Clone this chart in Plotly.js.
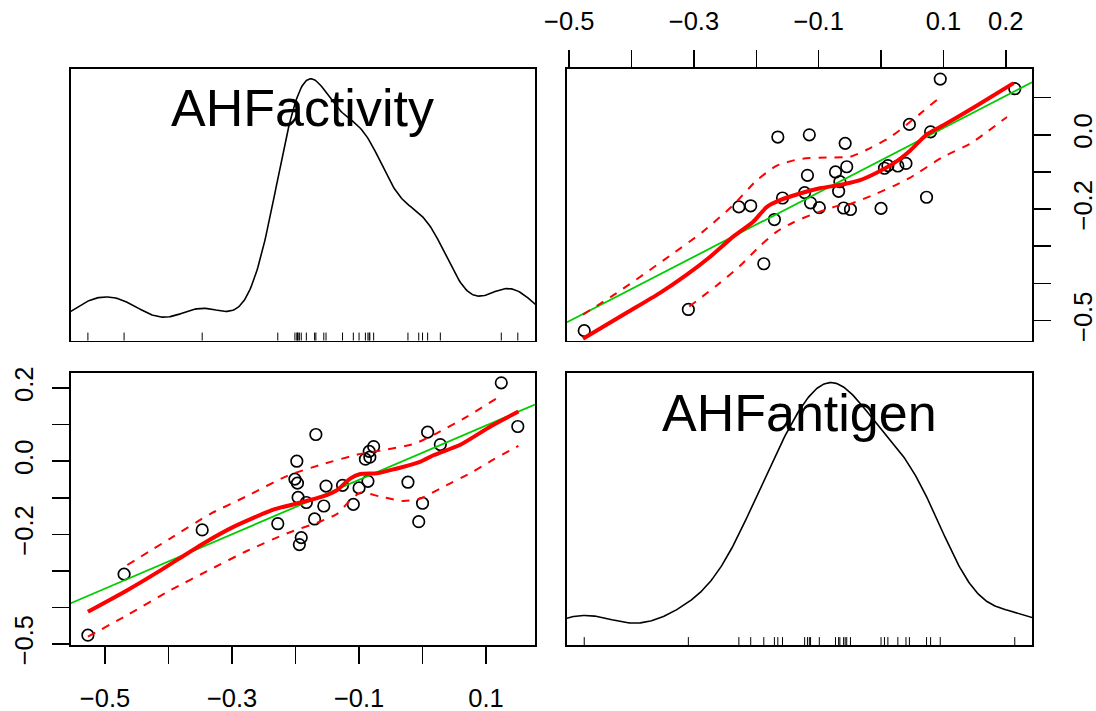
<!DOCTYPE html>
<html><head><meta charset="utf-8">
<script src="https://cdn.plot.ly/plotly-3.0.1.min.js"></script>
<style>body{margin:0;background:#fff}#chart{width:1096px;height:711px}</style>
</head><body><div id="chart"></div>
<script>
// ---- data ----
const varNames = ["AHFactivity", "AHFantigen"];
const AHFactivity = [-0.527,-0.470,-0.347,-0.228,-0.198,-0.201,-0.197,-0.196,-0.183,-0.191,
                     -0.194,-0.168,-0.170,-0.1555,-0.152,-0.126,-0.109,-0.100,-0.086,-0.090,
                     -0.084,-0.083,-0.077,-0.023,0.008,0.028,0.000,-0.006,0.124,0.150];
const AHFantigen  = [-0.476,-0.309,-0.188,-0.171,0.000,-0.049,-0.060,-0.099,-0.113,-0.209,
                     -0.228,0.073,-0.158,-0.1225,-0.068,-0.066,-0.118,-0.073,-0.055,0.0055,
                     0.027,0.011,0.040,-0.0575,0.0795,0.0455,-0.115,-0.1655,0.2145,0.095];

// loess smoother + spread lines
// panel: y = AHFantigen, x = AHFactivity
const smBL_x  = [-0.527,-0.465,-0.412,-0.349,-0.297,-0.234,-0.187,-0.150,-0.1345,-0.1135,-0.098,-0.0715,-0.045,-0.003,0.018,0.0595,0.107,0.151];
const smBL_y  = [-0.412,-0.353,-0.298,-0.229,-0.179,-0.132,-0.111,-0.092,-0.079,-0.047,-0.035,-0.033,-0.022,-0.001,0.017,0.045,0.095,0.136];
const upBL_x  = [-0.465,-0.397,-0.334,-0.276,-0.213,-0.161,-0.098,-0.066,-0.014,0.023,0.070,0.117];
const upBL_y  = [-0.284,-0.211,-0.144,-0.095,-0.040,-0.010,0.020,0.029,0.047,0.077,0.122,0.1725];
const loBL_x  = [-0.527,-0.465,-0.397,-0.334,-0.276,-0.213,-0.161,-0.1345,-0.116,-0.098,-0.066,-0.030,-0.003,0.033,0.075,0.112,0.151];
const loBL_y  = [-0.480,-0.421,-0.353,-0.296,-0.245,-0.197,-0.165,-0.144,-0.111,-0.086,-0.097,-0.109,-0.102,-0.070,-0.033,0.005,0.042];
// panel: y = AHFactivity, x = AHFantigen
const smTR_x  = [-0.478,-0.408,-0.355,-0.312,-0.274,-0.237,-0.205,-0.183,-0.162,-0.130,-0.098,-0.060,-0.0335,-0.007,0.020,0.047,0.0735,0.100,0.154,0.2125];
const smTR_y  = [-0.549,-0.479,-0.426,-0.377,-0.328,-0.274,-0.234,-0.194,-0.176,-0.158,-0.144,-0.133,-0.122,-0.102,-0.077,-0.042,0.001,0.0255,0.079,0.139];
const upTR_x  = [-0.478,-0.424,-0.339,-0.2855,-0.237,-0.199,-0.167,-0.130,-0.087,-0.0496,-0.0175,0.015,0.041,0.068,0.0895];
const upTR_y  = [-0.484,-0.426,-0.326,-0.2605,-0.189,-0.122,-0.083,-0.065,-0.061,-0.059,-0.036,-0.006,0.027,0.064,0.094];
const loTR_x  = [-0.3075,-0.264,-0.226,-0.194,-0.167,-0.141,-0.1085,-0.071,-0.0496,-0.007,0.020,0.047,0.100,0.143,0.202];
const loTR_y  = [-0.462,-0.406,-0.3525,-0.299,-0.2605,-0.236,-0.213,-0.192,-0.186,-0.158,-0.138,-0.115,-0.059,-0.024,0.048];

// tick labels
const activityTicks = [-0.5,-0.4,-0.3,-0.2,-0.1,0.0,0.1];
const activityBottomLabels = ["\u22120.5","","\u22120.3","","\u22120.1","","0.1"];
const activityRightLabels  = ["\u22120.5","","","\u22120.2","","0.0",""];
const antigenTicks = [-0.5,-0.4,-0.3,-0.2,-0.1,0.0,0.1,0.2];
const antigenTopLabels  = ["\u22120.5","","\u22120.3","","\u22120.1","","0.1","0.2"];
const antigenLeftLabels = ["\u22120.5","","","\u22120.2","","0.0","","0.2"];

// ---- helpers ----
function extRange(v){const mn=Math.min(...v),mx=Math.max(...v),d=mx-mn;return [mn-0.04*d,mx+0.04*d];}
function quantile(v,p){const s=[...v].sort((a,b)=>a-b);const h=(s.length-1)*p;const lo=Math.floor(h);return s[lo]+(h-lo)*((s[Math.min(lo+1,s.length-1)])-s[lo]);}
function density(v){
  const n=v.length, mean=v.reduce((a,b)=>a+b,0)/n;
  const sd=Math.sqrt(v.reduce((a,b)=>a+(b-mean)*(b-mean),0)/(n-1));
  const iqr=quantile(v,0.75)-quantile(v,0.25);
  const bw=0.9*Math.min(sd,iqr/1.34)*Math.pow(n,-0.2);
  const mn=Math.min(...v), mx=Math.max(...v);
  const from=mn-3*bw, to=mx+3*bw, xs=[], ds=[];
  for(let i=0;i<512;i++){const x=from+(to-from)*i/511;let s=0;for(const xi of v){const z=(x-xi)/bw;s+=Math.exp(-0.5*z*z);}xs.push(x);ds.push(s/(n*bw*Math.sqrt(2*Math.PI)));}
  const dmin=Math.min(...ds), dmax=Math.max(...ds);
  return {x:xs, y:ds.map(d=>mn+d*(mx-mn)/(dmax-dmin))};
}
function lmLine(x,y,range){
  const n=x.length, mx=x.reduce((a,b)=>a+b,0)/n, my=y.reduce((a,b)=>a+b,0)/n;
  let sxy=0,sxx=0;for(let i=0;i<n;i++){sxy+=(x[i]-mx)*(y[i]-my);sxx+=(x[i]-mx)*(x[i]-mx);}
  const b=sxy/sxx,a=my-b*mx;return {x:range,y:range.map(t=>a+b*t)};
}
function rug(v,range){
  const h=0.03*(range[1]-range[0]);const xs=[],ys=[];
  for(const t of v){xs.push(t,t,null);ys.push(range[0],range[0]+h,null);}
  return {x:xs,y:ys};
}

const rA = extRange(AHFactivity), rG = extRange(AHFantigen);
const dA = density(AHFactivity), dG = density(AHFantigen);
const rugA = rug(AHFactivity, rA), rugG = rug(AHFantigen, rG);
const lmTR = lmLine(AHFantigen, AHFactivity, rG);
const lmBL = lmLine(AHFactivity, AHFantigen, rA);

const RED='#ff0000', GREEN='#00cd00';
const pts = {mode:'markers', type:'scatter', marker:{symbol:'circle-open', size:11.5, color:'#000', line:{width:1.7, color:'#000'}}, hoverinfo:'skip'};
const ln = (c,w,d,shape)=>({mode:'lines', type:'scatter', line:{color:c, width:w, dash:d||'solid', shape:shape||'linear', smoothing:0.6}, hoverinfo:'skip'});
const DASH='8px,8px';

const traces = [
  Object.assign({x:dA.x, y:dA.y, xaxis:'x', yaxis:'y'}, ln('#000',1.6)),
  Object.assign({x:rugA.x, y:rugA.y, xaxis:'x', yaxis:'y'}, ln('#000',1)),
  Object.assign({x:AHFantigen, y:AHFactivity, xaxis:'x2', yaxis:'y2'}, pts),
  Object.assign({x:lmTR.x, y:lmTR.y, xaxis:'x2', yaxis:'y2'}, ln(GREEN,1.8)),
  Object.assign({x:upTR_x, y:upTR_y, xaxis:'x2', yaxis:'y2'}, ln(RED,2,DASH,'spline')),
  Object.assign({x:loTR_x, y:loTR_y, xaxis:'x2', yaxis:'y2'}, ln(RED,2,DASH,'spline')),
  Object.assign({x:smTR_x, y:smTR_y, xaxis:'x2', yaxis:'y2'}, ln(RED,4,null,'spline')),
  Object.assign({x:AHFactivity, y:AHFantigen, xaxis:'x3', yaxis:'y3'}, pts),
  Object.assign({x:lmBL.x, y:lmBL.y, xaxis:'x3', yaxis:'y3'}, ln(GREEN,1.8)),
  Object.assign({x:upBL_x, y:upBL_y, xaxis:'x3', yaxis:'y3'}, ln(RED,2,DASH,'spline')),
  Object.assign({x:loBL_x, y:loBL_y, xaxis:'x3', yaxis:'y3'}, ln(RED,2,DASH,'spline')),
  Object.assign({x:smBL_x, y:smBL_y, xaxis:'x3', yaxis:'y3'}, ln(RED,4,null,'spline')),
  Object.assign({x:dG.x, y:dG.y, xaxis:'x4', yaxis:'y4'}, ln('#000',1.6)),
  Object.assign({x:rugG.x, y:rugG.y, xaxis:'x4', yaxis:'y4'}, ln('#000',1)),
];

const W=1096,H=711;
const dxL=[70.7/W,535/W], dxR=[567/W,1032/W];
const dyT=[(H-340.7)/H,(H-69)/H], dyB=[(H-645.3)/H,(H-372.7)/H];
const FONT='Liberation Sans, Arial, Helvetica, sans-serif';
const base = {showgrid:false, zeroline:false, showline:true, mirror:true, linecolor:'#000', linewidth:1.6, fixedrange:true};
const noTicks = Object.assign({}, base, {ticks:'', showticklabels:false});
const withTicks = (vals, txt)=>Object.assign({}, base, {ticks:'outside', ticklen:17, tickwidth:1.6, tickcolor:'#000', tickmode:'array', tickvals:vals, ticktext:txt, tickfont:{family:FONT, size:25.5, color:'#000'}});

const layout = {
  width:W, height:H, margin:{l:0,r:0,t:0,b:0}, paper_bgcolor:'#fff', plot_bgcolor:'#fff', showlegend:false,
  font:{family:FONT, color:'#000'},
  xaxis: Object.assign({}, noTicks, {domain:dxL, range:rA, anchor:'y'}),
  yaxis: Object.assign({}, noTicks, {domain:dyT, range:rA, anchor:'x'}),
  xaxis2: Object.assign({}, withTicks(antigenTicks, antigenTopLabels), {domain:dxR, range:rG, anchor:'y2', side:'top', ticklabelstandoff:10}),
  yaxis2: Object.assign({}, withTicks(activityTicks, activityRightLabels), {domain:dyT, range:rA, anchor:'x2', side:'right', tickangle:-90, ticklabelstandoff:11}),
  xaxis3: Object.assign({}, withTicks(activityTicks, activityBottomLabels), {domain:dxL, range:rA, anchor:'y3', side:'bottom', ticklabelstandoff:12}),
  yaxis3: Object.assign({}, withTicks(antigenTicks, antigenLeftLabels), {domain:dyB, range:rG, anchor:'x3', side:'left', tickangle:-90, ticklabelstandoff:9}),
  xaxis4: Object.assign({}, noTicks, {domain:dxR, range:rG, anchor:'y4'}),
  yaxis4: Object.assign({}, noTicks, {domain:dyB, range:rG, anchor:'x4'}),
  annotations: [
    {text:varNames[0], xref:'paper', yref:'paper', x:(dxL[0]+dxL[1])/2, y:(H-107.5)/H, xanchor:'center', yanchor:'middle', showarrow:false, font:{family:FONT, size:52, color:'#000'}},
    {text:varNames[1], xref:'paper', yref:'paper', x:(dxR[0]+dxR[1])/2, y:(H-412.5)/H, xanchor:'center', yanchor:'middle', showarrow:false, font:{family:FONT, size:52, color:'#000'}}
  ]
};
Plotly.newPlot('chart', traces, layout, {staticPlot:true, displayModeBar:false});
</script></body></html>
